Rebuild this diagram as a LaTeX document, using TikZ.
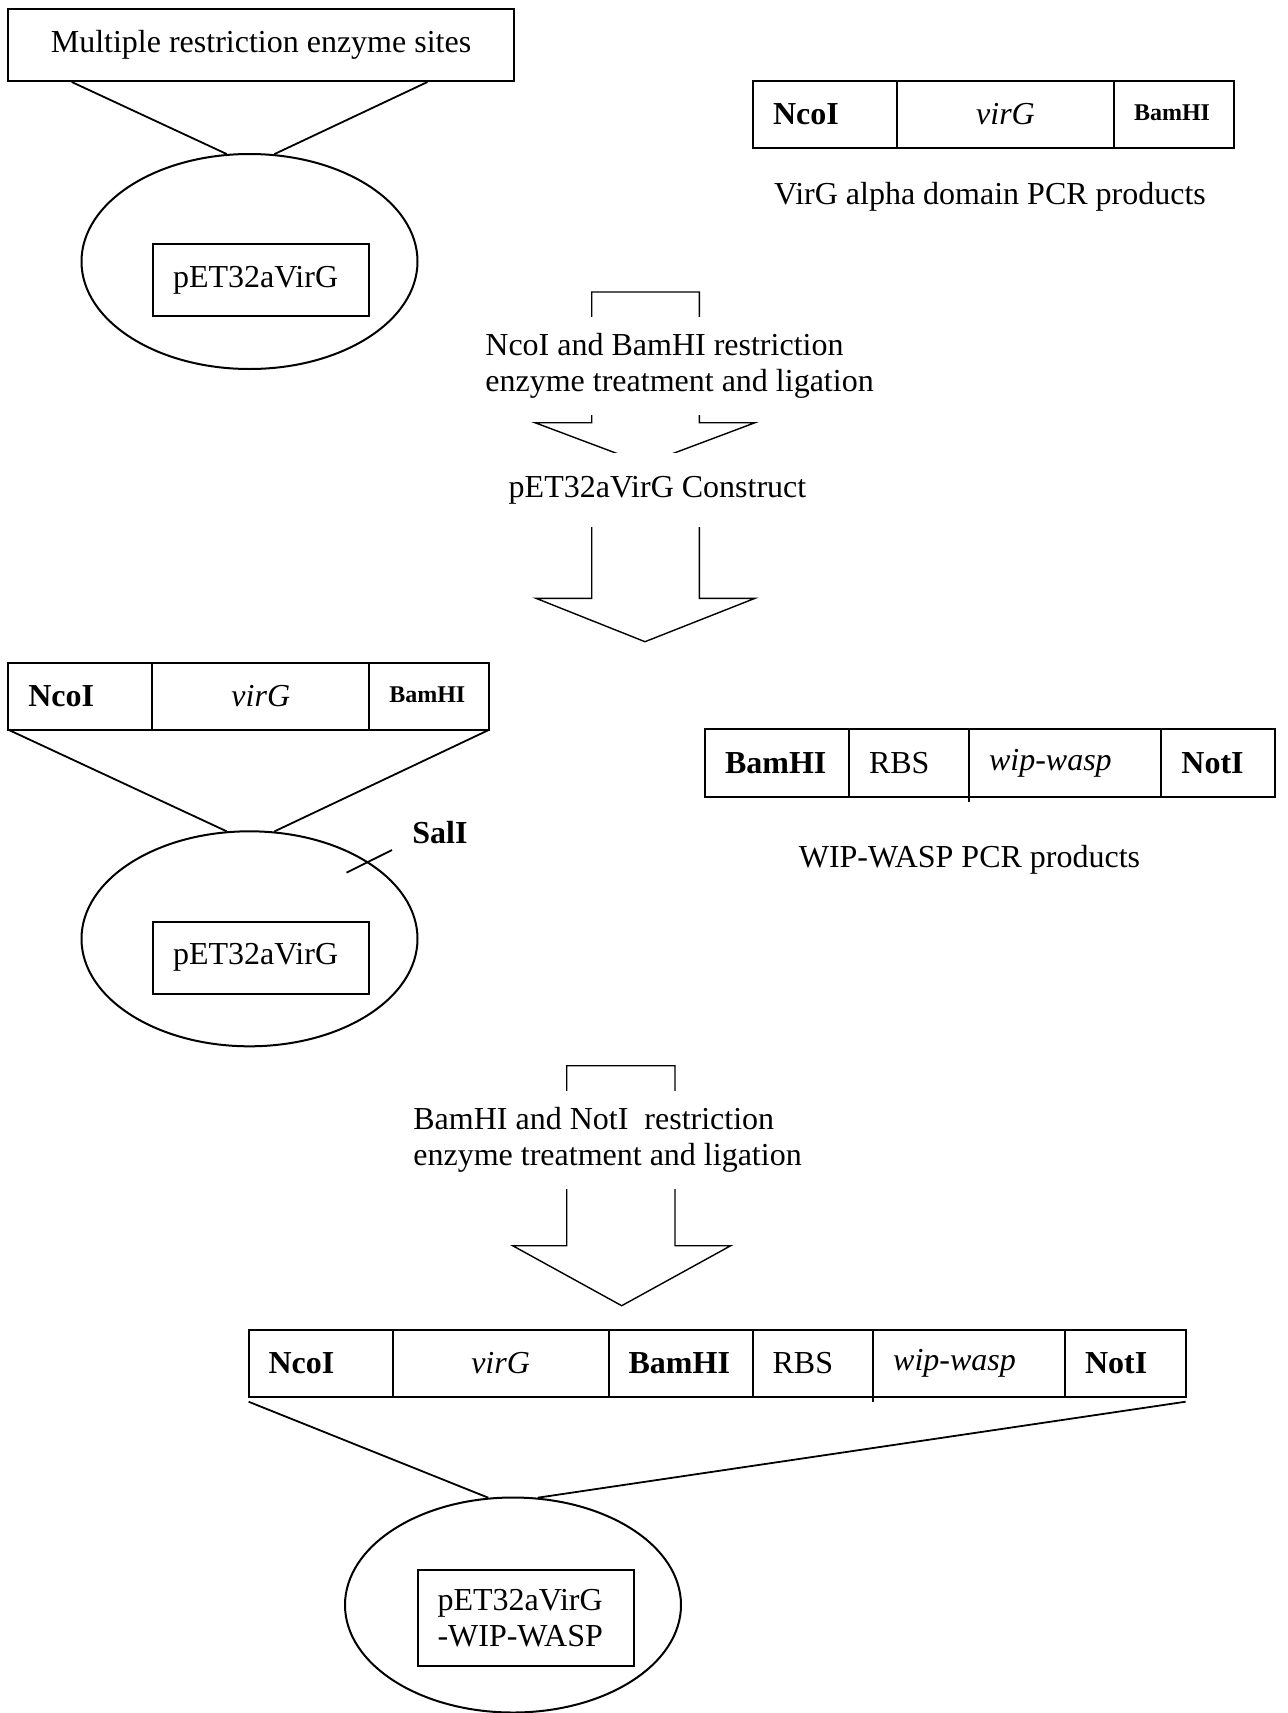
\documentclass[tikz,border=0pt]{standalone}
\usepackage{fontspec}
\setmainfont{Liberation Serif}
\usetikzlibrary{shapes.geometric,calc}

\tikzset{
  every node/.style={font=\fontsize{16}{18}\selectfont},
  cell/.style={draw,line width=1pt,outer sep=0pt,inner xsep=10pt,inner ysep=0pt,
    anchor=north west,text width=#1,align=left,minimum height=33.5pt},
  ccell/.style={cell=#1,align=center},
  ring/.style={draw,line width=1pt,ellipse,inner sep=0pt,
    minimum width=168pt,minimum height=107.5pt},
  patch/.style={fill=white,inner xsep=10pt,inner ysep=0pt,align=left},
  link/.style={line width=0.9pt},
  bigarrow/.style={line width=0.7pt}
}

\begin{document}
\begin{tikzpicture}[x=0.5pt,y=-0.5pt]
  \useasboundingbox (0,0) rectangle (1287,1713);

  % block arrows (the text patches cover parts of them)
  \draw[bigarrow] (591.7,292) -- (699.3,292) -- (699.3,422.7) -- (755,422.7)
    -- (645,464) -- (535,422.7) -- (591.7,422.7) -- cycle;
  \draw[bigarrow] (591.7,500) -- (699.3,500) -- (699.3,598.3) -- (755,598.3)
    -- (645,641.7) -- (536,598.3) -- (591.7,598.3) -- cycle;
  \draw[bigarrow] (566.7,1065.7) -- (675,1065.7) -- (675,1245.7) -- (730.7,1245.7)
    -- (621.7,1305.7) -- (512.7,1245.7) -- (566.7,1245.7) -- cycle;

  % vector
  \node[draw,line width=1pt,inner sep=0pt,minimum width=252.7pt,minimum height=35.8pt]
    (mre) at (261,45.2) {Multiple restriction enzyme sites};
  \node[ring] (e1) at (249.5,261.5) {};
  \node[cell=88pt,anchor=center,minimum height=36pt] (v1) at (261,280) {pET32aVirG};
  \draw[link] ($(mre.south west)!0.127!(mre.south east)$) -- (e1.102.5);
  \draw[link] ($(mre.south west)!0.828!(mre.south east)$) -- (e1.77.5);

  % virG PCR product
  \node[cell=52pt] (ncoT) at (753,81) {\textbf{NcoI}};
  \node[ccell=88.5pt] (virT) at (ncoT.north east) {\textit{virG}};
  \node[cell=40pt] (bamT) at (virT.north east)
    {\raisebox{2pt}{\fontsize{12}{14}\selectfont\bfseries BamHI}};
  \node (capT) at (990,197) {VirG alpha domain PCR products};

  % first step
  \node[patch,anchor=west,minimum height=49pt] (stepA) at (465,366)
    {NcoI and BamHI restriction\\enzyme treatment and ligation};
  \node[patch,minimum height=37pt] (cons) at (657.5,490) {pET32aVirG Construct};

  % construct
  \node[cell=52pt] (nco2) at (8.3,662.7) {\textbf{NcoI}};
  \node[ccell=88.5pt] (vir2) at (nco2.north east) {\textit{virG}};
  \node[cell=40pt] (bam2) at (vir2.north east)
    {\raisebox{2pt}{\fontsize{12}{14}\selectfont\bfseries BamHI}};
  \node[ring] (e2) at (249.5,938.8) {};
  \node[cell=88pt,anchor=center,minimum height=36pt] (v2) at (261,957.5) {pET32aVirG};
  \draw[link] (nco2.south west) -- (e2.102.5);
  \draw[link] (bam2.south east) -- (e2.77.5);
  \node[font=\fontsize{16}{18}\selectfont\bfseries] (sal) at (440,833) {SalI};
  \coordinate (salA) at (346.5,872.7);
  \coordinate (salB) at (392,850);
  \draw[link] (salA) -- (salB);

  % WIP-WASP PCR product
  \node[cell=52pt,minimum height=33.7pt] (bamW) at (705,729.3) {\textbf{BamHI}};
  \node[cell=40pt,minimum height=33.7pt] (rbsW) at (bamW.north east) {RBS};
  \node[cell=76.2pt,minimum height=33.7pt] (wipW) at (rbsW.north east) {\textit{wip-wasp}};
  \node[cell=37pt,minimum height=33.7pt] (notW) at (wipW.north east) {\textbf{NotI}};
  \draw[link] (wipW.south west) -- ++(0,5);
  \node (capW) at (969.5,860) {WIP-WASP PCR products};

  % second step
  \node[patch,anchor=west,minimum height=48.7pt] (stepB) at (393,1140)
    {BamHI and NotI~ restriction\\enzyme treatment and ligation};

  % final construct
  \node[cell=52pt,minimum height=33.35pt] (ncoF) at (248.6,1330) {\textbf{NcoI}};
  \node[ccell=88pt,minimum height=33.35pt] (virF) at (ncoF.north east) {\textit{virG}};
  \node[cell=52pt,minimum height=33.35pt] (bamF) at (virF.north east) {\textbf{BamHI}};
  \node[cell=40.3pt,minimum height=33.35pt] (rbsF) at (bamF.north east) {RBS};
  \node[cell=75.9pt,minimum height=33.35pt] (wipF) at (rbsF.north east) {\textit{wip-wasp}};
  \node[cell=40.3pt,minimum height=33.35pt] (notF) at (wipF.north east) {\textbf{NotI}};
  \draw[link] (wipF.south west) -- ++(0,5);
  \node[ring] (e3) at (513,1605) {};
  \node[cell=88pt,anchor=center,minimum height=48pt] (v3) at (525.5,1618)
    {pET32aVirG\\-WIP-WASP};
  \draw[link] ([yshift=-2.5pt]ncoF.south west) -- (e3.103);
  \draw[link] ([yshift=-2.5pt]notF.south east) -- (e3.77);
\end{tikzpicture}
\end{document}
